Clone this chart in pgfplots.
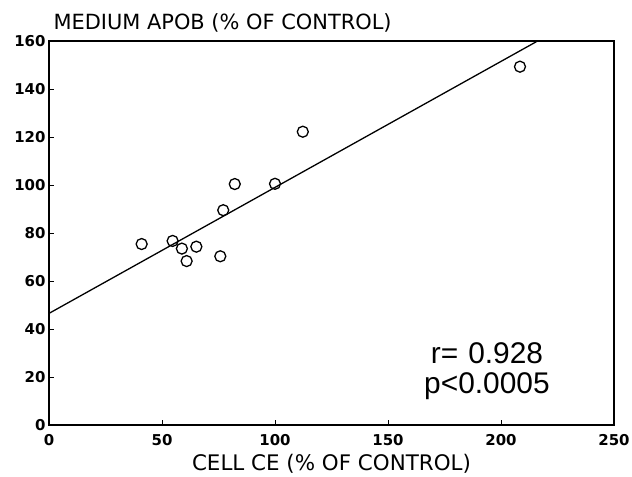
\documentclass[border=0pt]{standalone}
\usepackage{pgfplots}
\pgfplotsset{compat=1.18}
\usepackage{fontspec}
\setmainfont{DejaVu Sans}
\newfontfamily\annfont{Liberation Sans}
\begin{document}
\begin{tikzpicture}[x=1bp,y=1bp]
\begin{axis}[
  scale only axis,
  width=565bp, height=384bp,
  xmin=0, xmax=250, ymin=0, ymax=160,
  xtick={0,50,...,250}, ytick={0,20,...,160},
  tick pos=left,
  tick align=inside,
  major tick length=5bp,
  tick style={line width=0.9pt, black},
  axis line style={line width=1.1pt},
  /pgf/number format/assume math mode=true,
  ticklabel style={font=\fontsize{15}{17}\selectfont\bfseries},
  xticklabel style={yshift=-8bp, inner sep=1bp},
  yticklabel style={xshift=0bp},
  clip=false,
]
\addplot[black, line width=1.3pt] coordinates {(0,46.5) (216.2,160)};
\addplot[only marks, mark=o, mark size=5.5bp, mark options={line width=1.3pt, black}] coordinates {
(41.0,75.4) (54.7,76.7) (58.8,73.5) (60.9,68.3) (65.2,74.3) (75.8,70.3)
(77.1,89.5) (82.2,100.4) (100.0,100.5) (112.3,122.2) (208.4,149.3)
};
\node[font=\annfont\fontsize{30}{34}\selectfont] at (axis cs:193.8,30.0) {r=\,\,0.928};
\node[font=\annfont\fontsize{30}{34}\selectfont] at (axis cs:193.8,16.2) {p<0.0005};
\node[font=\fontsize{21}{24}\selectfont, anchor=base west] at ([xshift=1bp,yshift=11bp]rel axis cs:0,1) {MEDIUM APOB (\% OF CONTROL)};
\node[font=\fontsize{21.5}{24}\selectfont, inner sep=1bp] at ([yshift=-39bp]rel axis cs:0.5,0) {CELL CE (\% OF CONTROL)};
\path (rel axis cs:0,0) ++(-49bp,-52bp) rectangle ([xshift=18bp,yshift=41bp]rel axis cs:1,1);
\end{axis}
\end{tikzpicture}
\end{document}
